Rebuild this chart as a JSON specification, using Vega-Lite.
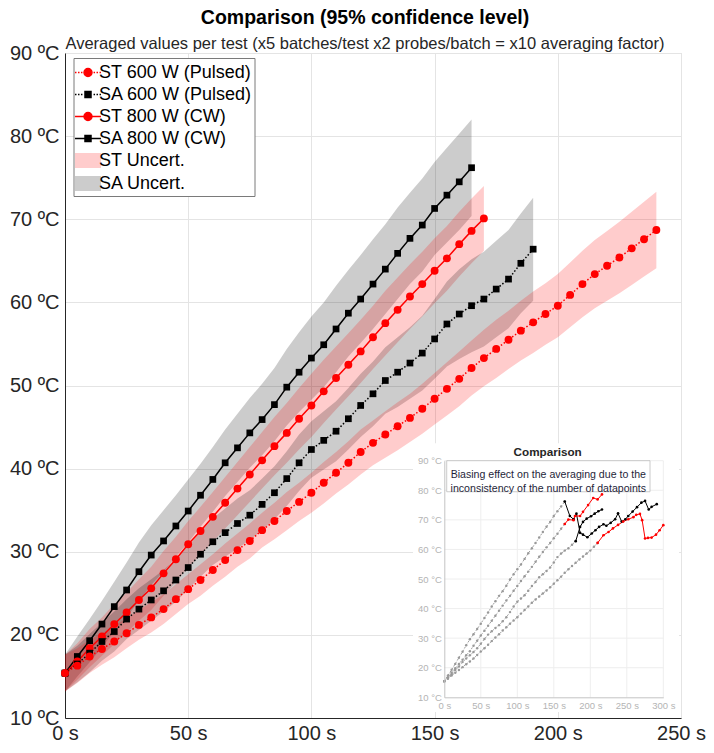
{
  "$schema": "https://vega.github.io/schema/vega-lite/v6.json",
  "width": 616,
  "height": 665,
  "padding": {"left": 9, "top": 8, "right": 8, "bottom": 4},
  "background": "white",
  "title": {
    "text": "Comparison (95% confidence level)",
    "subtitle": "Averaged values per test (x5 batches/test x2 probes/batch = x10 averaging factor)",
    "font": "Liberation Sans",
    "fontSize": 19.5,
    "fontWeight": "bold",
    "color": "#000000",
    "subtitleFont": "Liberation Sans",
    "subtitleFontSize": 16.5,
    "subtitleColor": "#262626",
    "subtitlePadding": 7,
    "offset": -10,
    "dx": -8,
    "anchor": "middle"
  },
  "config": {
    "font": "Liberation Sans",
    "view": {"stroke": "#dadada"},
    "axis": {
      "labelFont": "Liberation Sans",
      "labelColor": "#262626",
      "domainColor": "#262626",
      "gridColor": "#e4e4e4",
      "ticks": false
    },
    "legend": {
      "labelFont": "Liberation Sans",
      "labelFontSize": 18,
      "labelColor": "#000000",
      "labelLimit": 300,
      "symbolSize": 515,
      "symbolStrokeWidth": 1.5,
      "symbolOpacity": 1,
      "labelOffset": -1.5,
      "rowPadding": 0
    }
  },
  "datasets": {
    "main": [
      {"s":"SA800","t":0,"v":15.4,"lo":13.2,"hi":17.6},
      {"s":"SA800","t":5,"v":17.4,"lo":15.0,"hi":19.8},
      {"s":"SA800","t":10,"v":19.3,"lo":16.7,"hi":21.9},
      {"s":"SA800","t":15,"v":21.3,"lo":18.5,"hi":24.1},
      {"s":"SA800","t":20,"v":23.4,"lo":20.4,"hi":26.4},
      {"s":"SA800","t":25,"v":25.4,"lo":22.1,"hi":28.7},
      {"s":"SA800","t":30,"v":27.6,"lo":24.1,"hi":31.1},
      {"s":"SA800","t":35,"v":29.6,"lo":26.0,"hi":33.2},
      {"s":"SA800","t":40,"v":31.3,"lo":27.6,"hi":35.0},
      {"s":"SA800","t":45,"v":33.1,"lo":29.4,"hi":36.8},
      {"s":"SA800","t":50,"v":34.9,"lo":31.1,"hi":38.7},
      {"s":"SA800","t":55,"v":36.8,"lo":33.0,"hi":40.6},
      {"s":"SA800","t":60,"v":38.7,"lo":34.8,"hi":42.6},
      {"s":"SA800","t":65,"v":40.7,"lo":36.7,"hi":44.7},
      {"s":"SA800","t":70,"v":42.5,"lo":38.4,"hi":46.6},
      {"s":"SA800","t":75,"v":44.3,"lo":40.1,"hi":48.5},
      {"s":"SA800","t":80,"v":45.9,"lo":41.6,"hi":50.2},
      {"s":"SA800","t":85,"v":47.7,"lo":43.3,"hi":52.1},
      {"s":"SA800","t":90,"v":49.8,"lo":45.2,"hi":54.4},
      {"s":"SA800","t":95,"v":51.6,"lo":46.8,"hi":56.4},
      {"s":"SA800","t":100,"v":53.3,"lo":48.3,"hi":58.3},
      {"s":"SA800","t":105,"v":54.9,"lo":49.8,"hi":60.0},
      {"s":"SA800","t":110,"v":56.8,"lo":51.6,"hi":62.0},
      {"s":"SA800","t":115,"v":58.7,"lo":53.5,"hi":63.9},
      {"s":"SA800","t":120,"v":60.4,"lo":55.1,"hi":65.7},
      {"s":"SA800","t":125,"v":62.2,"lo":56.8,"hi":67.6},
      {"s":"SA800","t":130,"v":64.0,"lo":58.6,"hi":69.4},
      {"s":"SA800","t":135,"v":65.9,"lo":60.4,"hi":71.4},
      {"s":"SA800","t":140,"v":67.7,"lo":62.2,"hi":73.2},
      {"s":"SA800","t":145,"v":69.3,"lo":63.7,"hi":74.9},
      {"s":"SA800","t":150,"v":71.3,"lo":65.7,"hi":76.9},
      {"s":"SA800","t":155,"v":72.9,"lo":67.2,"hi":78.6},
      {"s":"SA800","t":160,"v":74.5,"lo":68.7,"hi":80.3},
      {"s":"SA800","t":165,"v":76.2,"lo":70.4,"hi":82.0},
      {"s":"ST800","t":0,"v":15.4,"lo":13.2,"hi":17.6},
      {"s":"ST800","t":5,"v":16.8,"lo":14.6,"hi":19.0},
      {"s":"ST800","t":10,"v":18.4,"lo":16.1,"hi":20.7},
      {"s":"ST800","t":15,"v":19.8,"lo":17.5,"hi":22.1},
      {"s":"ST800","t":20,"v":21.3,"lo":18.9,"hi":23.7},
      {"s":"ST800","t":25,"v":22.7,"lo":20.3,"hi":25.1},
      {"s":"ST800","t":30,"v":24.2,"lo":21.7,"hi":26.7},
      {"s":"ST800","t":35,"v":25.6,"lo":23.0,"hi":28.2},
      {"s":"ST800","t":40,"v":27.4,"lo":24.7,"hi":30.1},
      {"s":"ST800","t":45,"v":29.1,"lo":26.4,"hi":31.8},
      {"s":"ST800","t":50,"v":30.9,"lo":28.1,"hi":33.7},
      {"s":"ST800","t":55,"v":32.5,"lo":29.6,"hi":35.4},
      {"s":"ST800","t":60,"v":34.2,"lo":31.2,"hi":37.2},
      {"s":"ST800","t":65,"v":35.9,"lo":32.8,"hi":39.0},
      {"s":"ST800","t":70,"v":37.6,"lo":34.4,"hi":40.8},
      {"s":"ST800","t":75,"v":39.3,"lo":36.0,"hi":42.6},
      {"s":"ST800","t":80,"v":41.0,"lo":37.6,"hi":44.4},
      {"s":"ST800","t":85,"v":42.7,"lo":39.2,"hi":46.2},
      {"s":"ST800","t":90,"v":44.3,"lo":40.7,"hi":47.9},
      {"s":"ST800","t":95,"v":46.0,"lo":42.3,"hi":49.7},
      {"s":"ST800","t":100,"v":47.6,"lo":43.8,"hi":51.4},
      {"s":"ST800","t":105,"v":49.3,"lo":45.5,"hi":53.1},
      {"s":"ST800","t":110,"v":50.9,"lo":47.1,"hi":54.7},
      {"s":"ST800","t":115,"v":52.5,"lo":48.7,"hi":56.3},
      {"s":"ST800","t":120,"v":54.1,"lo":50.3,"hi":57.9},
      {"s":"ST800","t":125,"v":55.8,"lo":52.0,"hi":59.6},
      {"s":"ST800","t":130,"v":57.5,"lo":53.6,"hi":61.4},
      {"s":"ST800","t":135,"v":59.1,"lo":55.2,"hi":63.0},
      {"s":"ST800","t":140,"v":60.7,"lo":56.8,"hi":64.6},
      {"s":"ST800","t":145,"v":62.2,"lo":58.3,"hi":66.1},
      {"s":"ST800","t":150,"v":63.8,"lo":59.9,"hi":67.7},
      {"s":"ST800","t":155,"v":65.3,"lo":61.4,"hi":69.2},
      {"s":"ST800","t":160,"v":67.0,"lo":63.1,"hi":70.9},
      {"s":"ST800","t":165,"v":68.6,"lo":64.7,"hi":72.5},
      {"s":"ST800","t":170,"v":70.1,"lo":66.2,"hi":74.0},
      {"s":"SA600","t":0,"v":15.4,"lo":13.2,"hi":17.6},
      {"s":"SA600","t":5,"v":16.5,"lo":14.3,"hi":18.7},
      {"s":"SA600","t":10,"v":17.8,"lo":15.5,"hi":20.1},
      {"s":"SA600","t":15,"v":19.2,"lo":16.9,"hi":21.5},
      {"s":"SA600","t":20,"v":20.4,"lo":18.0,"hi":22.8},
      {"s":"SA600","t":25,"v":21.9,"lo":19.5,"hi":24.3},
      {"s":"SA600","t":30,"v":23.1,"lo":20.6,"hi":25.6},
      {"s":"SA600","t":35,"v":24.2,"lo":21.7,"hi":26.7},
      {"s":"SA600","t":40,"v":25.3,"lo":22.8,"hi":27.8},
      {"s":"SA600","t":45,"v":26.6,"lo":24.0,"hi":29.2},
      {"s":"SA600","t":50,"v":28.1,"lo":25.5,"hi":30.7},
      {"s":"SA600","t":55,"v":29.7,"lo":27.0,"hi":32.4},
      {"s":"SA600","t":60,"v":31.2,"lo":28.4,"hi":34.0},
      {"s":"SA600","t":65,"v":32.3,"lo":29.4,"hi":35.2},
      {"s":"SA600","t":70,"v":33.4,"lo":30.4,"hi":36.4},
      {"s":"SA600","t":75,"v":34.4,"lo":31.4,"hi":37.4},
      {"s":"SA600","t":80,"v":35.7,"lo":32.6,"hi":38.8},
      {"s":"SA600","t":85,"v":37.1,"lo":33.9,"hi":40.3},
      {"s":"SA600","t":90,"v":38.8,"lo":35.5,"hi":42.1},
      {"s":"SA600","t":95,"v":40.7,"lo":37.3,"hi":44.1},
      {"s":"SA600","t":100,"v":42.3,"lo":38.9,"hi":45.7},
      {"s":"SA600","t":105,"v":43.4,"lo":39.9,"hi":46.9},
      {"s":"SA600","t":110,"v":44.5,"lo":40.9,"hi":48.1},
      {"s":"SA600","t":115,"v":46.0,"lo":42.3,"hi":49.7},
      {"s":"SA600","t":120,"v":47.6,"lo":43.8,"hi":51.4},
      {"s":"SA600","t":125,"v":49.0,"lo":45.1,"hi":52.9},
      {"s":"SA600","t":130,"v":50.6,"lo":46.6,"hi":54.6},
      {"s":"SA600","t":135,"v":51.6,"lo":47.4,"hi":55.8},
      {"s":"SA600","t":140,"v":52.7,"lo":48.4,"hi":57.0},
      {"s":"SA600","t":145,"v":53.9,"lo":49.4,"hi":58.4},
      {"s":"SA600","t":150,"v":55.6,"lo":50.8,"hi":60.4},
      {"s":"SA600","t":155,"v":57.4,"lo":52.3,"hi":62.5},
      {"s":"SA600","t":160,"v":58.6,"lo":53.2,"hi":64.0},
      {"s":"SA600","t":165,"v":59.6,"lo":54.0,"hi":65.2},
      {"s":"SA600","t":170,"v":60.4,"lo":54.7,"hi":66.1},
      {"s":"SA600","t":175,"v":61.6,"lo":55.8,"hi":67.4},
      {"s":"SA600","t":180,"v":62.8,"lo":56.9,"hi":68.7},
      {"s":"SA600","t":185,"v":64.7,"lo":58.7,"hi":70.7},
      {"s":"SA600","t":190,"v":66.4,"lo":60.2,"hi":72.6},
      {"s":"ST600","t":0,"v":15.4,"lo":13.2,"hi":17.6},
      {"s":"ST600","t":5,"v":16.3,"lo":14.2,"hi":18.4},
      {"s":"ST600","t":10,"v":17.4,"lo":15.4,"hi":19.4},
      {"s":"ST600","t":15,"v":18.3,"lo":16.4,"hi":20.2},
      {"s":"ST600","t":20,"v":19.2,"lo":17.3,"hi":21.1},
      {"s":"ST600","t":25,"v":20.2,"lo":18.4,"hi":22.0},
      {"s":"ST600","t":30,"v":21.2,"lo":19.4,"hi":23.0},
      {"s":"ST600","t":35,"v":22.1,"lo":20.3,"hi":23.9},
      {"s":"ST600","t":40,"v":23.1,"lo":21.3,"hi":24.9},
      {"s":"ST600","t":45,"v":24.3,"lo":22.5,"hi":26.1},
      {"s":"ST600","t":50,"v":25.5,"lo":23.7,"hi":27.3},
      {"s":"ST600","t":55,"v":26.6,"lo":24.7,"hi":28.5},
      {"s":"ST600","t":60,"v":27.8,"lo":25.9,"hi":29.7},
      {"s":"ST600","t":65,"v":29.0,"lo":27.0,"hi":31.0},
      {"s":"ST600","t":70,"v":30.2,"lo":28.2,"hi":32.2},
      {"s":"ST600","t":75,"v":31.3,"lo":29.2,"hi":33.4},
      {"s":"ST600","t":80,"v":32.6,"lo":30.5,"hi":34.7},
      {"s":"ST600","t":85,"v":33.7,"lo":31.5,"hi":35.9},
      {"s":"ST600","t":90,"v":34.9,"lo":32.6,"hi":37.2},
      {"s":"ST600","t":95,"v":36.0,"lo":33.7,"hi":38.3},
      {"s":"ST600","t":100,"v":37.1,"lo":34.7,"hi":39.5},
      {"s":"ST600","t":105,"v":38.3,"lo":35.8,"hi":40.8},
      {"s":"ST600","t":110,"v":39.5,"lo":37.0,"hi":42.0},
      {"s":"ST600","t":115,"v":40.7,"lo":38.1,"hi":43.3},
      {"s":"ST600","t":120,"v":42.0,"lo":39.3,"hi":44.7},
      {"s":"ST600","t":125,"v":43.1,"lo":40.4,"hi":45.8},
      {"s":"ST600","t":130,"v":44.1,"lo":41.3,"hi":46.9},
      {"s":"ST600","t":135,"v":45.1,"lo":42.2,"hi":48.0},
      {"s":"ST600","t":140,"v":46.1,"lo":43.2,"hi":49.0},
      {"s":"ST600","t":145,"v":47.2,"lo":44.2,"hi":50.2},
      {"s":"ST600","t":150,"v":48.4,"lo":45.3,"hi":51.5},
      {"s":"ST600","t":155,"v":49.6,"lo":46.4,"hi":52.8},
      {"s":"ST600","t":160,"v":50.8,"lo":47.5,"hi":54.1},
      {"s":"ST600","t":165,"v":52.1,"lo":48.8,"hi":55.4},
      {"s":"ST600","t":170,"v":53.3,"lo":49.9,"hi":56.7},
      {"s":"ST600","t":175,"v":54.4,"lo":50.9,"hi":57.9},
      {"s":"ST600","t":180,"v":55.5,"lo":52.0,"hi":59.0},
      {"s":"ST600","t":185,"v":56.6,"lo":53.0,"hi":60.2},
      {"s":"ST600","t":190,"v":57.6,"lo":53.9,"hi":61.3},
      {"s":"ST600","t":195,"v":58.6,"lo":54.9,"hi":62.3},
      {"s":"ST600","t":200,"v":59.6,"lo":55.8,"hi":63.4},
      {"s":"ST600","t":205,"v":60.9,"lo":57.0,"hi":64.8},
      {"s":"ST600","t":210,"v":62.2,"lo":58.2,"hi":66.2},
      {"s":"ST600","t":215,"v":63.4,"lo":59.3,"hi":67.5},
      {"s":"ST600","t":220,"v":64.4,"lo":60.2,"hi":68.6},
      {"s":"ST600","t":225,"v":65.4,"lo":61.1,"hi":69.7},
      {"s":"ST600","t":230,"v":66.5,"lo":62.1,"hi":70.9},
      {"s":"ST600","t":235,"v":67.6,"lo":63.1,"hi":72.1},
      {"s":"ST600","t":240,"v":68.7,"lo":64.1,"hi":73.3}
    ],
    "inset": [
      {"k":"A","t":165,"v":76.2},{"k":"A","t":172,"v":71.3},{"k":"A","t":177,"v":70.2},{"k":"A","t":181,"v":72.1},
      {"k":"A","t":186,"v":65.6},{"k":"A","t":190,"v":65.0},{"k":"A","t":196,"v":64.1},{"k":"A","t":202,"v":65.4},
      {"k":"A","t":207,"v":66.5},{"k":"A","t":212,"v":67.6},{"k":"A","t":218,"v":68.5},{"k":"A","t":222,"v":68.0},
      {"k":"A","t":228,"v":69.0},{"k":"A","t":234,"v":70.2},{"k":"A","t":238,"v":72.2},{"k":"A","t":243,"v":69.4},
      {"k":"A","t":248,"v":70.2},{"k":"A","t":252,"v":71.3},{"k":"A","t":258,"v":72.8},{"k":"A","t":264,"v":74.3},
      {"k":"A","t":270,"v":75.8},{"k":"A","t":275,"v":76.4},{"k":"A","t":280,"v":73.5},{"k":"A","t":284,"v":74.4},
      {"k":"A","t":291,"v":75.3},
      {"k":"B","t":180,"v":62.8},{"k":"B","t":186,"v":67.6},{"k":"B","t":190,"v":69.3},{"k":"B","t":195,"v":70.4},
      {"k":"B","t":201,"v":71.2},{"k":"B","t":206,"v":72.1},{"k":"B","t":211,"v":72.9},{"k":"B","t":216,"v":73.5},
      {"k":"C","t":165,"v":68.6},{"k":"C","t":170,"v":70.1},{"k":"C","t":177,"v":69.9},{"k":"C","t":179,"v":71.3},
      {"k":"C","t":186,"v":71.3},{"k":"C","t":190,"v":72.7},{"k":"C","t":197,"v":75.0},{"k":"C","t":204,"v":77.4},
      {"k":"C","t":210,"v":76.9},{"k":"C","t":216,"v":78.6},
      {"k":"D","t":210,"v":62.2},{"k":"D","t":218,"v":64.8},{"k":"D","t":225,"v":65.9},{"k":"D","t":231,"v":67.1},
      {"k":"D","t":238,"v":68.3},{"k":"D","t":245,"v":69.4},{"k":"D","t":252,"v":70.2},{"k":"D","t":259,"v":70.9},
      {"k":"D","t":263,"v":71.7},{"k":"D","t":268,"v":72.0},{"k":"D","t":271,"v":69.9},{"k":"D","t":275,"v":63.7},
      {"k":"D","t":279,"v":63.9},{"k":"D","t":284,"v":64.0},{"k":"D","t":290,"v":65.0},{"k":"D","t":295,"v":66.5},
      {"k":"D","t":300,"v":68.2}
    ]
  },
  "layer": [
    {
      "layer": [
        {
          "data": {"name": "main"},
          "mark": {"type": "area", "fillOpacity": 0.2},
          "encoding": {
            "x": {
              "field": "t", "type": "quantitative",
              "scale": {"domain": [0, 250], "nice": false},
              "axis": {
                "orient": "bottom", "title": null, "values": [0, 50, 100, 150, 200, 250],
                "labelExpr": "datum.value + ' s'", "labelFontSize": 20, "labelPadding": 5,
                "grid": true, "labelFlush": false, "labelOverlap": false
              }
            },
            "y": {
              "field": "lo", "type": "quantitative",
              "scale": {"domain": [10, 90], "nice": false},
              "axis": {
                "orient": "left", "title": null, "values": [10, 20, 30, 40, 50, 60, 70, 80, 90],
                "labelExpr": "datum.value + ' ºC'", "labelFontSize": 20, "labelPadding": 6,
                "grid": true, "labelFlush": false, "labelOverlap": false
              }
            },
            "y2": {"field": "hi"},
            "detail": {"field": "s"},
            "fill": {"condition": {"test": "datum.s == 'ST600' || datum.s == 'ST800'", "value": "#ff0000"}, "value": "#000000"}
          }
        },
        {
          "data": {"name": "main"},
          "transform": [{"filter": "datum.s == 'ST800' || datum.s == 'SA800'"}],
          "mark": {"type": "line", "strokeWidth": 1.5},
          "encoding": {
            "x": {"field": "t", "type": "quantitative"},
            "y": {"field": "v", "type": "quantitative"},
            "detail": {"field": "s"},
            "color": {"condition": {"test": "datum.s == 'ST800'", "value": "#ff0000"}, "value": "#000000"}
          }
        },
        {
          "data": {"name": "main"},
          "transform": [{"filter": "datum.s == 'ST600' || datum.s == 'SA600'"}],
          "mark": {"type": "line", "strokeWidth": 1.5, "strokeDash": [1.5, 2]},
          "encoding": {
            "x": {"field": "t", "type": "quantitative"},
            "y": {"field": "v", "type": "quantitative"},
            "detail": {"field": "s"},
            "color": {"condition": {"test": "datum.s == 'ST600'", "value": "#ff0000"}, "value": "#000000"}
          }
        },
        {
          "data": {"name": "main"},
          "mark": {"type": "point", "filled": true, "opacity": 1},
          "encoding": {
            "x": {"field": "t", "type": "quantitative"},
            "y": {"field": "v", "type": "quantitative"},
            "shape": {"condition": {"test": "datum.s == 'SA600' || datum.s == 'SA800'", "value": "square"}, "value": "circle"},
            "size": {"condition": {"test": "datum.s == 'SA600' || datum.s == 'SA800'", "value": 45}, "value": 62},
            "color": {"condition": {"test": "datum.s == 'SA600' || datum.s == 'SA800'", "value": "#000000"}, "value": "#ff0000"}
          }
        },
        {
          "data": {"values": [
            {"n": "ST 600 W (Pulsed)"}, {"n": "SA 600 W (Pulsed)"}, {"n": "ST 800 W (CW)"},
            {"n": "SA 800 W (CW)"}, {"n": "ST Uncert."}, {"n": "SA Uncert."}
          ]},
          "transform": [{"filter": "false"}],
          "mark": {"type": "point", "filled": true},
          "encoding": {
            "fill": {
              "field": "n", "type": "nominal",
              "scale": {
                "domain": ["ST 600 W (Pulsed)", "SA 600 W (Pulsed)", "ST 800 W (CW)", "SA 800 W (CW)", "ST Uncert.", "SA Uncert."],
                "range": ["#ff0000", "#000000", "#ff0000", "#000000", "#ffcccc", "#cccccc"]
              },
              "legend": {
                "title": null, "orient": "none", "legendX": 8.5, "legendY": 5,
                "strokeColor": "#7a7a7a", "fillColor": "#ffffff", "padding": 2
              }
            },
            "stroke": {
              "field": "n", "type": "nominal",
              "scale": {
                "domain": ["ST 600 W (Pulsed)", "SA 600 W (Pulsed)", "ST 800 W (CW)", "SA 800 W (CW)", "ST Uncert.", "SA Uncert."],
                "range": ["#ff0000", "#000000", "#ff0000", "#000000", "transparent", "transparent"]
              }
            },
            "shape": {
              "field": "n", "type": "nominal",
              "scale": {
                "domain": ["ST 600 W (Pulsed)", "SA 600 W (Pulsed)", "ST 800 W (CW)", "SA 800 W (CW)", "ST Uncert.", "SA Uncert."],
                "range": [
                  "M-1.145,0H-1.015M-0.88,0H-0.75M-0.62,0H-0.49M0.49,0H0.62M0.75,0H0.88M1.015,0H1.145M0.35,0A0.35,0.35,0,1,1,-0.35,0A0.35,0.35,0,1,1,0.35,0Z",
                  "M-1.145,0H-1.015M-0.88,0H-0.75M-0.62,0H-0.49M0.49,0H0.62M0.75,0H0.88M1.015,0H1.145M-0.265,-0.265H0.265V0.265H-0.265Z",
                  "M-1.145,0H1.145M0.35,0A0.35,0.35,0,1,1,-0.35,0A0.35,0.35,0,1,1,0.35,0Z",
                  "M-1.145,0H1.145M-0.265,-0.265H0.265V0.265H-0.265Z",
                  "M-1.145,-0.66H1.145V0.66H-1.145Z",
                  "M-1.145,-0.66H1.145V0.66H-1.145Z"
                ]
              }
            }
          }
        }
      ]
    },
    {
      "layer": [
        {
          "data": {"values": [{}]},
          "mark": {"type": "rect", "fill": "#ffffff", "stroke": null},
          "encoding": {
            "x": {"datum": -42.9, "type": "quantitative"},
            "x2": {"datum": 321.5},
            "y": {"datum": 95.9, "type": "quantitative"},
            "y2": {"datum": 5.0}
          }
        },
        {
          "data": {"values": [{"g": 50}, {"g": 100}, {"g": 150}, {"g": 200}, {"g": 250}, {"g": 300}]},
          "mark": {"type": "rule", "color": "#eeeeee", "strokeWidth": 1},
          "encoding": {
            "x": {
              "field": "g", "type": "quantitative",
              "scale": {"domain": [0, 300], "range": [379.3, 598.3], "nice": false, "zero": false},
              "axis": {
                "orient": "bottom", "offset": -20.7, "title": null, "values": [0, 50, 100, 150, 200, 250, 300],
                "labelExpr": "datum.value + ' s'", "labelFontSize": 9.5, "labelColor": "#b4b4b4",
                "domainColor": "#c4c4c4", "grid": false, "labelPadding": 3, "zindex": 1,
                "labelFlush": false, "labelOverlap": false
              }
            },
            "y": {"datum": 10, "type": "quantitative"},
            "y2": {"datum": 90}
          }
        },
        {
          "data": {"values": [{"g": 20}, {"g": 30}, {"g": 40}, {"g": 50}, {"g": 60}, {"g": 70}, {"g": 80}, {"g": 90}]},
          "mark": {"type": "rule", "color": "#eeeeee", "strokeWidth": 1},
          "encoding": {
            "y": {
              "field": "g", "type": "quantitative",
              "scale": {"domain": [10, 90], "range": [644.3, 407.7], "nice": false, "zero": false},
              "axis": {
                "orient": "left", "offset": -379.3, "title": null, "values": [10, 20, 30, 40, 50, 60, 70, 80, 90],
                "labelExpr": "datum.value + ' °C'", "labelFontSize": 9.5, "labelColor": "#b4b4b4",
                "domainColor": "#c4c4c4", "grid": false, "labelPadding": 3, "zindex": 1,
                "labelFlush": false, "labelOverlap": false
              }
            },
            "x": {"datum": 0, "type": "quantitative"},
            "x2": {"datum": 300}
          }
        },
        {
          "data": {"values": [{}]},
          "mark": {"type": "rect", "fill": "#ffffff", "stroke": "#bdbdbd", "strokeWidth": 0.8},
          "encoding": {
            "x": {"datum": 3.3, "type": "quantitative"},
            "x2": {"datum": 281.8},
            "y": {"datum": 90, "type": "quantitative"},
            "y2": {"datum": 79.5}
          }
        },
        {
          "data": {"name": "main"},
          "transform": [{"filter": "(datum.s == 'SA800' && datum.t <= 165) || (datum.s == 'ST800' && datum.t <= 165) || (datum.s == 'SA600' && datum.t <= 180) || (datum.s == 'ST600' && datum.t <= 210)"}],
          "mark": {"type": "line", "color": "#a0a0a0", "strokeWidth": 1, "strokeDash": [2, 1.5]},
          "encoding": {
            "x": {"field": "t", "type": "quantitative"},
            "y": {"field": "v", "type": "quantitative"},
            "detail": {"field": "s"}
          }
        },
        {
          "data": {"name": "main"},
          "transform": [{"filter": "(datum.s == 'SA800' && datum.t <= 165) || (datum.s == 'ST800' && datum.t <= 165) || (datum.s == 'SA600' && datum.t <= 180) || (datum.s == 'ST600' && datum.t <= 210)"}],
          "mark": {"type": "point", "filled": true, "color": "#999999", "size": 6, "opacity": 1},
          "encoding": {
            "x": {"field": "t", "type": "quantitative"},
            "y": {"field": "v", "type": "quantitative"}
          }
        },
        {
          "data": {"name": "inset"},
          "mark": {"type": "line", "strokeWidth": 1},
          "encoding": {
            "x": {"field": "t", "type": "quantitative"},
            "y": {"field": "v", "type": "quantitative"},
            "detail": {"field": "k"},
            "color": {"condition": {"test": "datum.k == 'C' || datum.k == 'D'", "value": "#ff0000"}, "value": "#000000"}
          }
        },
        {
          "data": {"name": "inset"},
          "mark": {"type": "point", "filled": true, "size": 7, "opacity": 1},
          "encoding": {
            "x": {"field": "t", "type": "quantitative"},
            "y": {"field": "v", "type": "quantitative"},
            "color": {"condition": {"test": "datum.k == 'C' || datum.k == 'D'", "value": "#ff0000"}, "value": "#000000"}
          }
        },
        {
          "data": {"values": [{}]},
          "mark": {"type": "text", "font": "Liberation Sans", "fontSize": 11.7, "fontWeight": "bold", "color": "#262626", "align": "center", "baseline": "middle"},
          "encoding": {
            "x": {"datum": 141.6, "type": "quantitative"},
            "y": {"datum": 92.9, "type": "quantitative"},
            "text": {"value": "Comparison"}
          }
        },
        {
          "data": {"values": [{}]},
          "mark": {"type": "text", "font": "Liberation Sans", "fontSize": 10.6, "color": "#1f1f3a", "align": "center", "baseline": "middle", "lineHeight": 14.4},
          "encoding": {
            "x": {"datum": 142.5, "type": "quantitative"},
            "y": {"datum": 85.3, "type": "quantitative"},
            "text": {"value": ["Biasing effect on the averaging due to the", "inconsistency of the number of datapoints"]}
          }
        }
      ]
    }
  ],
  "resolve": {
    "scale": {"x": "independent", "y": "independent"},
    "axis": {"x": "independent", "y": "independent"}
  }
}
